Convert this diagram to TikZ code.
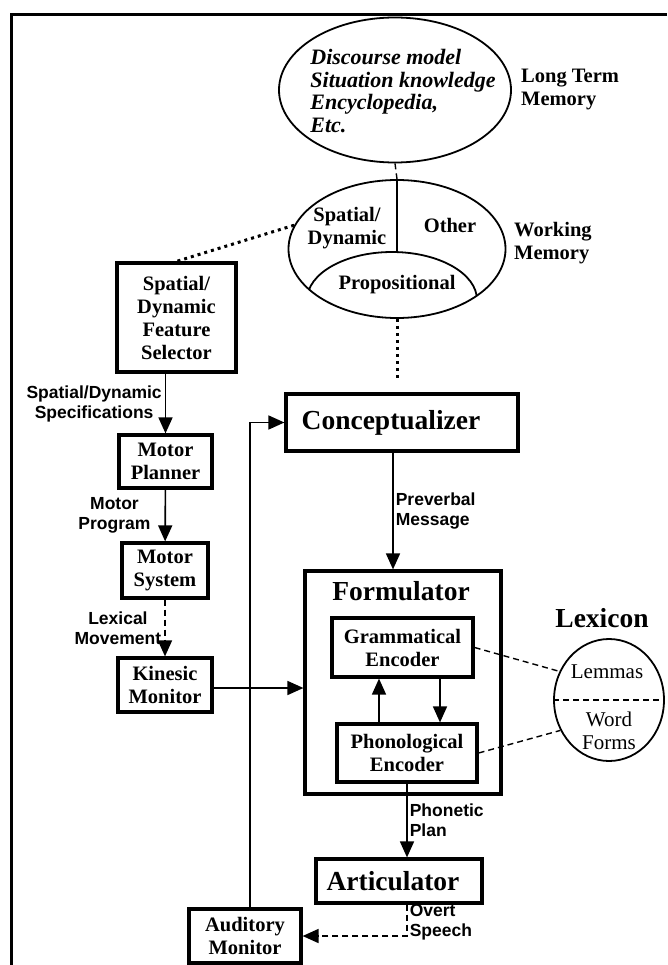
\documentclass[tikz,border=0pt]{standalone}
\usepackage{fontspec}
\setmainfont{Liberation Serif}
\setsansfont{Liberation Sans}
\usetikzlibrary{arrows.meta, positioning, shapes.geometric, calc}

\newcommand{\bxfont}{\fontsize{20.5}{23}\selectfont\bfseries}
\newcommand{\stfont}{\fontsize{27.5}{30}\selectfont\bfseries}
\newcommand{\tgfont}{\fontsize{17.5}{20}\selectfont\sffamily\bfseries}
\newcommand{\itfont}{\fontsize{22}{22.8}\selectfont\bfseries\itshape}
\newcommand{\lxfont}{\fontsize{21}{23.5}\selectfont}

\begin{document}
\begin{tikzpicture}[x=1pt, y=-1pt,
  box/.style={rectangle, draw, line width=3.2pt, inner sep=0pt, align=center, font=\bxfont},
  stage/.style={box, font=\stfont},
  mem/.style={ellipse, draw, line width=1.8pt, inner sep=0pt},
  memtext/.style={align=center, inner sep=0pt, font=\bxfont},
  flowtag/.style={font=\tgfont, align=center, inner sep=2pt},
  flow/.style={-{Triangle[length=16pt, width=14pt]}, line width=1.6pt},
  link/.style={line width=1.4pt, dash pattern=on 6pt off 4pt},
  dots/.style={line width=3pt, dash pattern=on 3pt off 4pt}
]
\useasboundingbox (0,0) rectangle (667,965);

% Frame
\draw[line width=3pt] (667,15) -- (11,15) -- (11,965);

% Memory stores
\node[mem, minimum width=232pt, minimum height=145pt] (ltm) at (395,90) {};
\node[align=left, inner sep=0pt, font=\itfont] (ltmtext) at (403,91) {Discourse model\\Situation knowledge\\Encyclopedia,\\Etc.};
\node[memtext, anchor=west, align=left] (ltmlabel) at (521,90) {Long Term\\Memory};

\node[mem, minimum width=217pt, minimum height=138pt] (wm) at (397,249) {};
\coordinate (wmsplit) at (397,252);
\begin{scope}
  \clip (wm.center) ellipse [x radius=108.5pt, y radius=69pt];
  \draw[line width=1.8pt] (392,300) ellipse [x radius=85pt, y radius=48pt];
\end{scope}
\draw[line width=1.8pt] (wm.north) -- (wmsplit);
\node[memtext] (wmspatial) at (347,228) {Spatial/\\Dynamic};
\node[memtext] (wmother) at (450,225) {Other};
\node[memtext] (wmprop) at (397,285) {Propositional};
\node[memtext, anchor=west, align=left] (wmlabel) at (514,243) {Working\\Memory};

% Gesture side
\node[box, minimum width=119pt, minimum height=109pt] (selector) at (176.5,317.5) {Spatial/\\Dynamic\\Feature\\Selector};
\node[box, minimum width=93pt, minimum height=53pt] (planner) at (165.5,461.5) {Motor\\Planner};
\node[box, minimum width=86pt, minimum height=55pt] (motorsys) at (165,570.5) {Motor\\System};
\node[box, minimum width=94pt, minimum height=54pt] (kinesic) at (165,685) {Kinesic\\Monitor};

% Speech side
\node[stage, minimum width=232pt, minimum height=57pt] (concept) at (402,422.5) {Conceptualizer\hspace*{22pt}};
\node[box, minimum width=196pt, minimum height=223pt] (formulator) at (403,682.5) {};
\node[font=\stfont, inner sep=0pt] (formlabel) at (401,591) {Formulator};
\node[box, minimum width=141pt, minimum height=59pt] (gram) at (402.5,647.5) {Grammatical\\Encoder};
\node[box, minimum width=140pt, minimum height=58pt] (phon) at (407,753) {Phonological\\Encoder};
\node[stage, minimum width=166pt, minimum height=44pt] (artic) at (399,881) {Articulator\hspace*{12pt}};
\node[box, minimum width=112pt, minimum height=54pt] (auditory) at (245,936) {Auditory\\Monitor};

% Lexicon
\node[mem, minimum width=110pt, minimum height=122pt] (lex) at (609,700) {};
\node[font=\stfont, inner sep=0pt] (lexlabel) at (602,618) {Lexicon};
\node[font=\lxfont, inner sep=0pt] (lemmas) at (607,672) {Lemmas};
\node[font=\lxfont, inner sep=0pt, align=center] (forms) at (609,731) {Word\\Forms};
\draw[link] (lex.west) -- (lex.east);

% Memory links
\draw[link] (ltm.south) -- (wm.north);
\draw[dots] (wm.167) -- (selector.north);
\draw[dots, shorten >=11pt] (wm.south) -- (wm.south |- concept.north);

% Gesture flow
\draw[flow] (selector.south -| planner.north) -- node[flowtag, midway, left=1pt] {Spatial/Dynamic\\Specifications} (planner.north);
\draw[flow] (planner) -- node[flowtag, midway, left=12pt] {Motor\\Program} (motorsys);
\draw[flow, dash pattern=on 6pt off 4pt] (motorsys) -- node[flowtag, midway, left=1pt] {Lexical\\Movement} (kinesic);
\draw[flow] ([yshift=-3pt]kinesic.east) -- ([yshift=-3pt]kinesic.east -| formulator.west);

% Speech flow
\draw[flow] ([xshift=-9pt]concept.south) -- node[flowtag, midway, right, align=left] {Preverbal\\Message} ([xshift=-9pt]concept.south |- formulator.north);
\draw[flow] ([xshift=-28pt]phon.north) -- ([xshift=-28pt]phon.north |- gram.south);
\draw[flow] ([xshift=37.5pt]gram.south) -- ([xshift=37.5pt]gram.south |- phon.north);
\draw[flow] (phon.south) -- node[flowtag, midway, right, align=left] {Phonetic\\Plan} (phon.south |- artic.north);
\draw[flow, dash pattern=on 6pt off 4pt] (phon.south |- artic.south) |- node[flowtag, pos=0.28, right, align=left] {Overt\\Speech} (auditory.east);
\draw[flow] ([xshift=5pt]auditory.north) |- (concept.west);

% Lexical access
\draw[link] (gram.east) -- (lex.150);
\draw[link] (phon.east) -- (lex.212);

\end{tikzpicture}
\end{document}
